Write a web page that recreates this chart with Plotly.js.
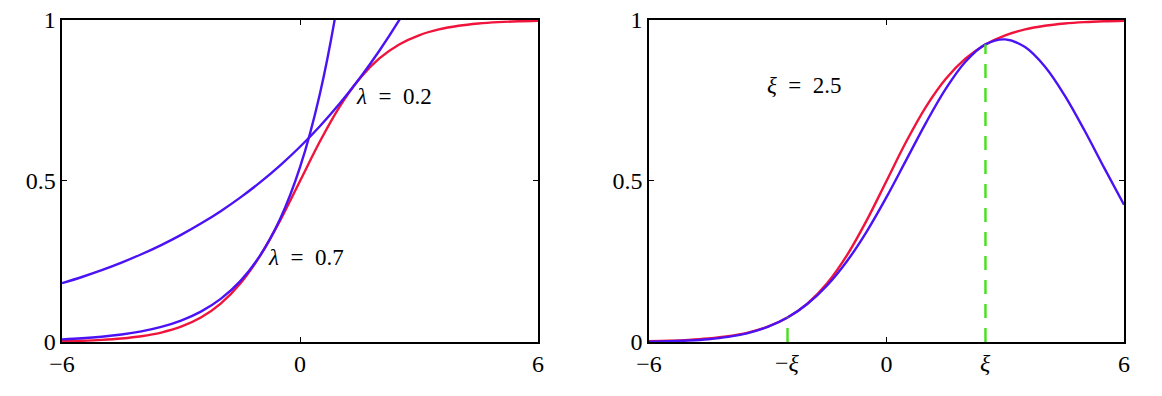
<!DOCTYPE html>
<html>
<head>
<meta charset="utf-8">
<script src="https://cdn.plot.ly/plotly-3.0.1.min.js"></script>
<style>html,body{margin:0;padding:0;background:#fff;}#chart{width:1162px;height:396px;}</style>
</head>
<body>
<div id="chart"></div>
<script>
// x grid (shared)
const xs = [-6,-5.5,-5,-4.5,-4,-3.5,-3,-2.5,-2,-1.5,-1,-0.5,0,0.5,1,1.5,2,2.5,3,3.5,4,4.5,5,5.5,6];
// logistic sigmoid (red)
const sigmoid = [0.00247,0.00407,0.00669,0.01099,0.01799,0.02931,0.04743,0.07586,0.11920,0.18243,0.26894,0.37754,0.5,0.62246,0.73106,0.81757,0.88080,0.92414,0.95257,0.97069,0.98201,0.98901,0.99331,0.99593,0.99753];
// upper bound, lambda = 0.2 (blue)
const xUp02 = [-6,-5.5,-5,-4.5,-4,-3.5,-3,-2.5,-2,-1.5,-1,-0.5,0,0.5,1,1.5,2,2.5,3];
const up02 = [0.18261,0.20182,0.22304,0.24650,0.27242,0.30107,0.33274,0.36773,0.40641,0.44915,0.49639,0.54859,0.60629,0.67005,0.74052,0.81840,0.90448,0.99960,1.10469];
// upper bound, lambda = 0.7 (blue)
const xUp07 = [-6,-5.5,-5,-4.5,-4,-3.5,-3,-2.5,-2,-1.5,-1,-0.5,0,0.5,1,1.5];
const up07 = [0.00814,0.01155,0.01639,0.02326,0.03301,0.04685,0.06648,0.09434,0.13387,0.18998,0.26959,0.38257,0.54289,0.77039,1.09323,1.55137];
// lower bound, xi = 2.5 (blue)
const lower25 = [0.00106,0.00221,0.00443,0.00851,0.01567,0.02766,0.04679,0.07586,0.11789,0.17560,0.25069,0.34304,0.44991,0.56557,0.68145,0.78696,0.87108,0.92414,0.93973,0.91589,0.85559,0.76606,0.65743,0.54076,0.42630];
// xi markers (green)
const xiVals = [-2.5, 2.5];
const xiHeights = [0.07586, 0.92414];
const xTicks = [-6, 0, 6];
const xTickText = ['\u22126', '0', '6'];
const yTicks = [0, 0.5, 1];
const yTickText = ['0', '0.5', '1'];

const RED = '#f0143c', BLUE = '#4a12f5', GREEN = '#44e01a';
const FONT = '"Liberation Serif", "Times New Roman", serif';
const SP = '\u2002';

const traces = [
  {x: xs, y: sigmoid, xaxis:'x', yaxis:'y', mode:'lines', line:{color:RED, width:2.4, shape:'spline'}},
  {x: xUp02, y: up02, xaxis:'x', yaxis:'y', mode:'lines', line:{color:BLUE, width:2.4, shape:'spline'}},
  {x: xUp07, y: up07, xaxis:'x', yaxis:'y', mode:'lines', line:{color:BLUE, width:2.4, shape:'spline'}},
  {x: xs, y: sigmoid, xaxis:'x2', yaxis:'y2', mode:'lines', line:{color:RED, width:2.4, shape:'spline'}},
  {x: xs, y: lower25, xaxis:'x2', yaxis:'y2', mode:'lines', line:{color:BLUE, width:2.4, shape:'spline'}},
  {x: [xiVals[0], xiVals[0]], y: [0, xiHeights[0]], xaxis:'x2', yaxis:'y2', mode:'lines', line:{color:GREEN, width:2.4, dash:'14px,10px'}},
  {x: [xiVals[1], xiVals[1]], y: [0, xiHeights[1]], xaxis:'x2', yaxis:'y2', mode:'lines', line:{color:GREEN, width:2.4, dash:'14px,10px'}}
];

function xax(domain, anchor){
  return {domain: domain, anchor: anchor, range:[-6,6], showgrid:false, zeroline:false,
    showline:true, mirror:'ticks', linecolor:'#000', linewidth:1.6,
    ticks:'inside', ticklen:5, tickcolor:'#000', tickwidth:1,
    tickvals: xTicks, ticktext: xTickText, tickfont:{family:FONT, size:24, color:'#000'}, fixedrange:true};
}
function yax(anchor){
  return {domain:[0.1364, 0.9495], anchor: anchor, range:[0,1], showgrid:false, zeroline:false,
    showline:true, mirror:'ticks', linecolor:'#000', linewidth:1.6,
    ticks:'inside', ticklen:5, tickcolor:'#000', tickwidth:1,
    tickvals: yTicks, ticktext: yTickText, tickfont:{family:FONT, size:24, color:'#000'}, fixedrange:true};
}

const layout = {
  width:1162, height:396, margin:{l:0, r:0, t:0, b:0},
  paper_bgcolor:'#fff', plot_bgcolor:'#fff', showlegend:false,
  xaxis: xax([0.0534, 0.4630], 'y'),
  yaxis: yax('x'),
  xaxis2: xax([0.5585, 0.9673], 'y2'),
  yaxis2: yax('x2'),
  annotations: [
    {xref:'x', yref:'y', x:1.36, y:0.761, xanchor:'left', yanchor:'middle', showarrow:false,
     text:'<i>λ</i>' + SP + '=' + SP + '0.2', font:{family:FONT, size:23, color:'#000'}},
    {xref:'x', yref:'y', x:-0.86, y:0.261, xanchor:'left', yanchor:'middle', showarrow:false,
     text:'<i>λ</i>' + SP + '=' + SP + '0.7', font:{family:FONT, size:23, color:'#000'}},
    {xref:'x2', yref:'y2', x:-3.07, y:0.798, xanchor:'left', yanchor:'middle', showarrow:false,
     text:'<i>ξ</i>' + SP + '=' + SP + '2.5', font:{family:FONT, size:23, color:'#000'}},
    {xref:'x2', yref:'paper', x:xiVals[0], y:0.083, xanchor:'center', yanchor:'middle', showarrow:false,
     text:'\u2212<i>ξ</i>', font:{family:FONT, size:24, color:'#000'}},
    {xref:'x2', yref:'paper', x:xiVals[1], y:0.083, xanchor:'center', yanchor:'middle', showarrow:false,
     text:'<i>ξ</i>', font:{family:FONT, size:24, color:'#000'}}
  ]
};

Plotly.newPlot('chart', traces, layout, {staticPlot:true, displayModeBar:false});
</script>
</body>
</html>
